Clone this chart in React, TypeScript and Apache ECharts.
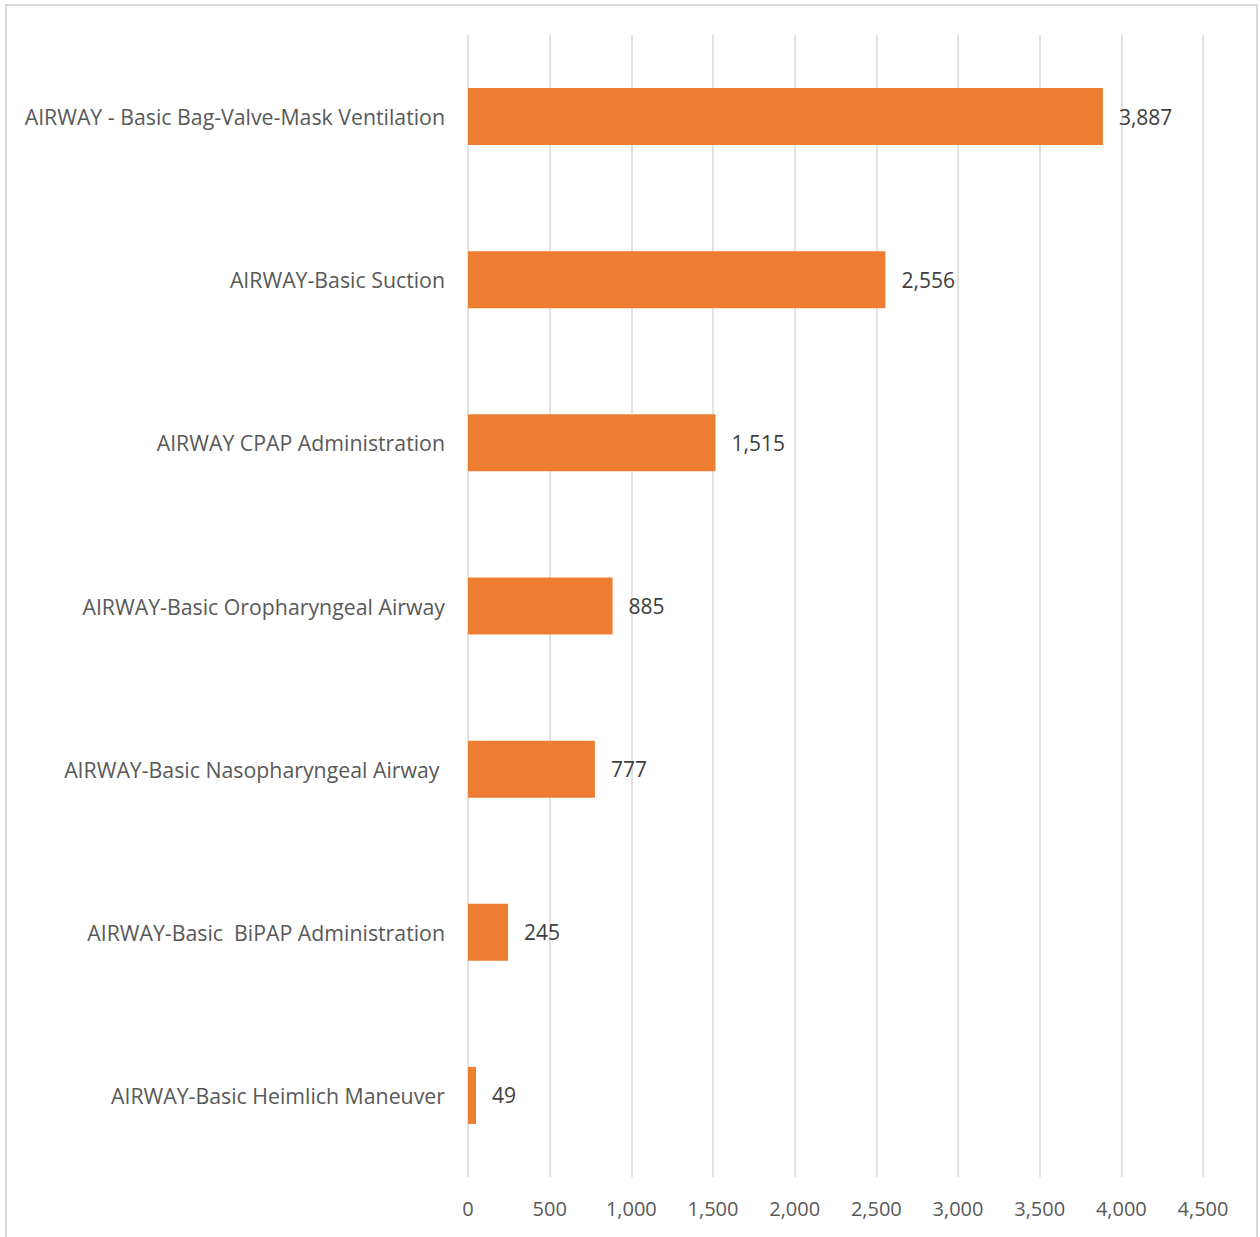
import React, { useEffect, useRef } from "react";
import * as echarts from "echarts";

const categories = [
  "AIRWAY - Basic Bag-Valve-Mask Ventilation",
  "AIRWAY-Basic Suction",
  "AIRWAY CPAP Administration",
  "AIRWAY-Basic Oropharyngeal Airway",
  "AIRWAY-Basic Nasopharyngeal Airway ",
  "AIRWAY-Basic  BiPAP Administration",
  "AIRWAY-Basic Heimlich Maneuver",
];
const values = [3887, 2556, 1515, 885, 777, 245, 49];
const xTicks = { min: 0, max: 4500, interval: 500 };

const FONT = "Open Sans";
const TEXT = "#595959";

export default function App() {
  const ref = useRef<HTMLDivElement>(null);
  useEffect(() => {
    const chart = echarts.init(ref.current!, null, { renderer: "svg" });
    chart.setOption({
      animation: false,
      backgroundColor: "#ffffff",
      textStyle: { fontFamily: FONT },
      graphic: [
        {
          type: "rect",
          shape: { x: 6, y: 5, width: 1251, height: 1240 },
          style: { fill: "none", stroke: "#D9D9D9", lineWidth: 2 },
          silent: true,
        },
      ],
      grid: { left: 468, right: 57, top: 35, bottom: 60, containLabel: false },
      xAxis: {
        type: "value",
        min: xTicks.min,
        max: xTicks.max,
        interval: xTicks.interval,
        axisLine: { show: false },
        axisTick: { show: false },
        splitLine: { show: true, lineStyle: { color: "#D9D9D9", width: 1.5 } },
        axisLabel: {
          color: TEXT,
          fontSize: 20,
          fontFamily: FONT,
          margin: 21,
          formatter: (v: number) => v.toLocaleString("en-US"),
        },
      },
      yAxis: {
        type: "category",
        data: categories,
        inverse: true,
        axisLine: { show: false },
        axisTick: { show: false },
        splitLine: { show: false },
        axisLabel: {
          color: TEXT,
          fontSize: 21.3,
          fontFamily: FONT,
          margin: 23,
        },
      },
      series: [
        {
          type: "bar",
          data: values,
          barWidth: 57,
          itemStyle: { color: "#ED7D31" },
          label: {
            show: true,
            position: "right",
            distance: 16,
            color: "#404040",
            fontSize: 21,
            fontFamily: FONT,
            formatter: (p: any) => Number(p.value).toLocaleString("en-US"),
          },
        },
      ],
    });
    return () => chart.dispose();
  }, []);
  return (
    <div
      ref={ref}
      style={{ position: "absolute", left: 0, top: 0, width: 1260, height: 1237 }}
    />
  );
}
